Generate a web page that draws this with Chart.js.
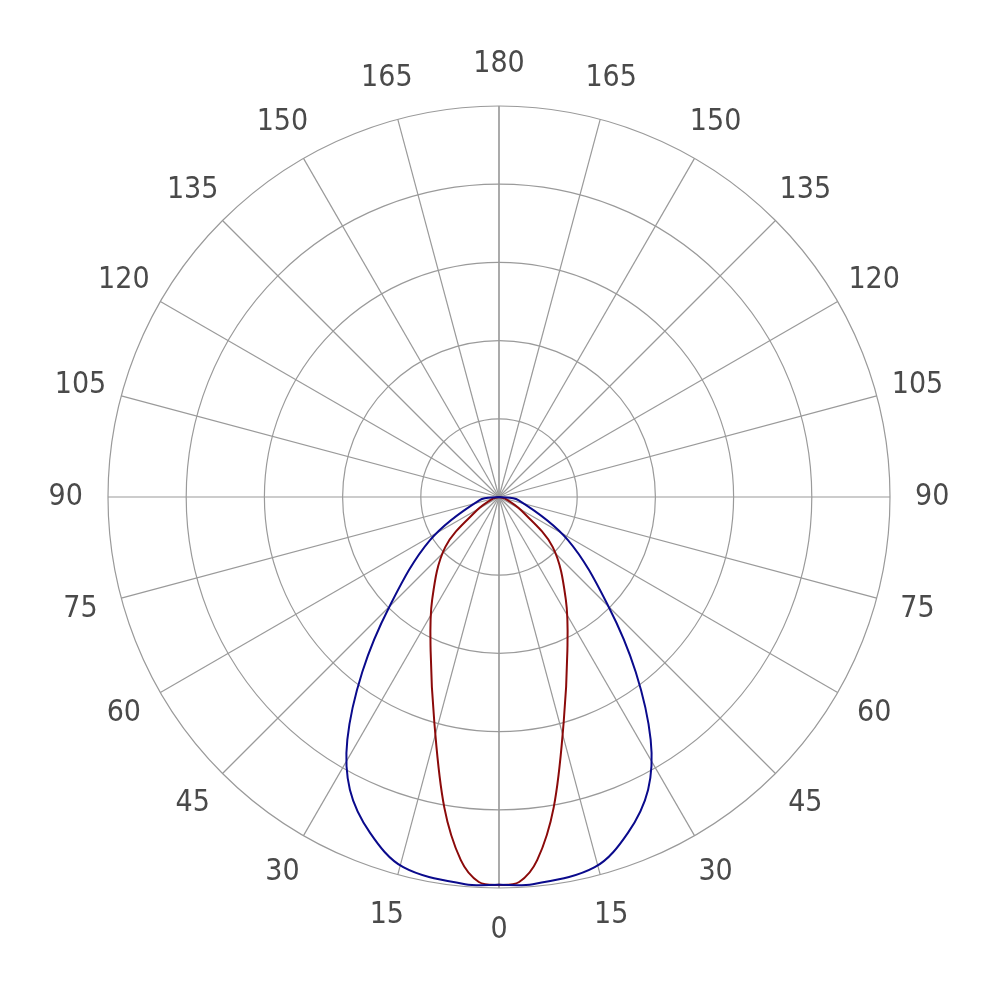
<!DOCTYPE html>
<html>
<head>
<meta charset="utf-8">
<script src="https://cdn.jsdelivr.net/npm/chart.js@4"></script>
<style>
  html, body { margin: 0; background: #fff; }
  #wrap { width: 1000px; height: 1000px; }
</style>
</head>
<body>
<div id="wrap"><canvas id="polar"></canvas></div>
<script>
// angles in degrees from nadir (0 = straight down), radius in ring units (5 rings)
const blueAngles = [0, 5, 14.5, 21, 27, 32, 38, 45, 58, 81, 90];
const blueRadii  = [4.96, 4.97, 4.89, 4.6, 4.2, 3.66, 2.84, 1.98, 1.04, 0.25, 0];
const redAngles  = [0, 3, 6, 10, 16, 24, 33, 47, 59, 75, 90];
const redRadii   = [4.96, 4.93, 4.67, 4.03, 3.0, 2.15, 1.57, 0.94, 0.33, 0.08, 0];
const ringValues = [1, 2, 3, 4, 5];
const spokeAngles = [0, 15, 30, 45, 60, 75, 90, 105, 120, 135, 150, 165, 180];

// turn a half curve (symmetric) into x/y points, left side then right side
function toPoints(angles, radii) {
  const pts = [];
  for (let i = angles.length - 1; i >= 0; i--) {
    const a = angles[i] * Math.PI / 180;
    pts.push({ x: -radii[i] * Math.sin(a), y: -radii[i] * Math.cos(a) });
  }
  for (let i = 1; i < angles.length; i++) {
    const a = angles[i] * Math.PI / 180;
    pts.push({ x: radii[i] * Math.sin(a), y: -radii[i] * Math.cos(a) });
  }
  return pts;
}

// grid, spokes and angle labels
const polarGrid = {
  id: "polarGrid",
  beforeDatasetsDraw(chart) {
    const ctx = chart.ctx;
    const sx = chart.scales.x, sy = chart.scales.y;
    const cx = sx.getPixelForValue(0), cy = sy.getPixelForValue(0);
    const unit = sx.getPixelForValue(1) - cx;
    ctx.save();
    ctx.strokeStyle = "#9a9a9a";
    ctx.lineWidth = 1.2;
    ringValues.forEach((r) => {
      ctx.beginPath();
      ctx.arc(cx, cy, r * unit, 0, Math.PI * 2);
      ctx.stroke();
    });
    const outer = ringValues[ringValues.length - 1] * unit;
    ctx.font = '30px "Liberation Sans Narrow", "DejaVu Sans Condensed", sans-serif';
    ctx.fillStyle = "#4a4a4a";
    ctx.textAlign = "center";
    ctx.textBaseline = "middle";
    spokeAngles.forEach((deg) => {
      const a = deg * Math.PI / 180;
      [-1, 1].forEach((side) => {
        const dx = side * Math.sin(a), dy = Math.cos(a);
        ctx.beginPath();
        ctx.moveTo(cx, cy);
        ctx.lineTo(cx + dx * outer, cy + dy * outer);
        ctx.stroke();
        if ((deg === 0 || deg === 180) && side === 1) return;
        ctx.fillText(String(deg), cx + dx * 5.54 * unit, cy + dy * 5.54 * unit);
      });
    });
    ctx.restore();
  },
};

new Chart(document.getElementById("polar"), {
  type: "scatter",
  data: {
    datasets: [
      {
        data: toPoints(blueAngles, blueRadii),
        showLine: true,
        tension: 0.35,
        borderColor: "#0a0a8c",
        borderWidth: 2,
        backgroundColor: "rgba(255, 255, 170, 0.22)",
        fill: "origin",
        pointRadius: 0,
      },
      {
        data: toPoints(redAngles, redRadii),
        showLine: true,
        tension: 0.35,
        borderColor: "#8b0a0a",
        borderWidth: 2,
        backgroundColor: "rgba(255, 255, 170, 0.25)",
        fill: "origin",
        pointRadius: 0,
      },
    ],
  },
  options: {
    responsive: true,
    maintainAspectRatio: false,
    animation: false,
    layout: { padding: { left: 108, right: 110, top: 106, bottom: 112 } },
    scales: {
      x: { type: "linear", min: -5, max: 5, display: false },
      y: { type: "linear", min: -5, max: 5, display: false },
    },
    plugins: { legend: { display: false }, tooltip: { enabled: false } },
  },
  plugins: [polarGrid],
});
</script>
</body>
</html>
